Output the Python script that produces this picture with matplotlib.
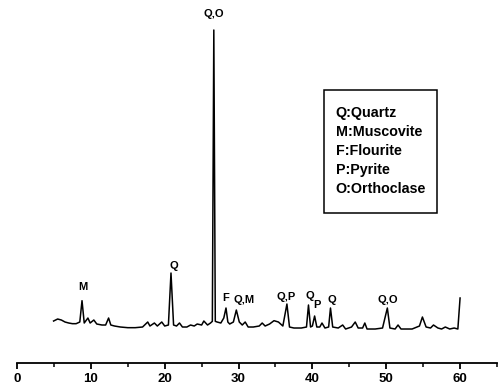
import matplotlib
matplotlib.use("Agg")
import matplotlib.pyplot as plt
from matplotlib.patches import Rectangle
from matplotlib.ticker import MultipleLocator

# XRD trace (2-theta, intensity a.u.)
two_theta = [4.95, 5.5, 6.0, 6.5, 7.0, 7.5, 8.0, 8.5, 8.8, 9.1, 9.6, 9.9, 10.4, 10.8,
             11.5, 12.0, 12.4, 12.7, 13.2, 14.0, 15.0, 16.0, 17.0, 17.7, 18.0, 18.6,
             19.0, 19.6, 20.0, 20.5, 20.85, 21.2, 21.6, 22.0, 22.4, 23.0, 23.5, 24.0,
             24.4, 25.0, 25.3, 25.8, 26.2, 26.45, 26.65, 26.85, 27.1, 27.6, 28.0, 28.3,
             28.55, 28.8, 29.3, 29.7, 30.1, 30.5, 30.9, 31.3, 32.0, 32.8, 33.2, 33.6,
             34.2, 34.8, 35.4, 36.0, 36.55, 36.9, 37.5, 38.5, 39.2, 39.47, 39.75, 40.0,
             40.3, 40.6, 41.0, 41.3, 41.7, 42.2, 42.45, 42.75, 43.5, 44.1, 44.5, 45.3,
             45.8, 46.2, 46.8, 47.1, 47.4, 48.5, 49.5, 50.15, 50.5, 51.2, 51.6, 52.0,
             53.5, 54.5, 54.9, 55.4, 56.0, 56.4, 57.0, 57.5, 58.0, 58.6, 59.2, 59.7, 60.0]
intensity = [126, 132, 129, 123, 120, 118, 118, 123, 187, 120, 135, 120, 129, 117,
             114, 114, 135, 114, 111, 108, 106, 106, 108, 123, 111, 120,
             111, 123, 111, 114, 270, 114, 111, 120, 108, 108, 114, 111,
             117, 114, 126, 114, 120, 125, 999, 125, 123, 120, 135, 165,
             123, 117, 123, 159, 123, 114, 123, 108, 108, 111, 120, 111,
             117, 127, 123, 111, 177, 108, 105, 105, 108, 174, 108, 111,
             141, 108, 108, 120, 105, 108, 165, 108, 105, 114, 102, 108,
             123, 105, 105, 120, 102, 102, 105, 165, 105, 102, 114, 102,
             102, 111, 138, 108, 105, 114, 105, 102, 108, 102, 105, 102, 195]

# peak labels
label_text = ["M", "Q", "Q,O", "F", "Q,M", "Q,P", "Q", "P", "Q", "Q,O"]
label_x = [8.9, 21.2, 26.6, 28.2, 30.7, 36.5, 39.6, 40.6, 42.6, 50.2]
label_y = [227, 292, 1047, 194, 189, 199, 201, 174, 189, 189]

legend_lines = ["Q:Quartz", "M:Muscovite", "F:Flourite", "P:Pyrite", "O:Orthoclase"]

plt.rcParams["font.family"] = "Liberation Sans"

fig = plt.figure(figsize=(5.01, 3.89), dpi=100)
ax = fig.add_axes([0.034, 0.0668, 0.958, 0.9332])

ax.plot(two_theta, intensity, color="black", lw=1.1)

for t, x, y in zip(label_text, label_x, label_y):
    ax.text(x, y, t, ha="center", va="center", fontsize=8, fontweight="bold")

# legend box
ax.add_patch(Rectangle((0.64, 0.413), 0.235, 0.339, transform=ax.transAxes,
                       facecolor="white", edgecolor="black", lw=1.1, zorder=3))
for i, line in enumerate(legend_lines):
    ax.text(0.664, 0.689 - i * 0.0525, line, transform=ax.transAxes,
            ha="left", va="center", fontsize=10.3, fontweight="bold", zorder=4)

ax.set_xlim(0, 65)
ax.set_ylim(0, 1089)
for s in ["top", "right", "left"]:
    ax.spines[s].set_visible(False)
ax.spines["bottom"].set_linewidth(1.3)
ax.set_yticks([])
ax.set_xticks([0, 10, 20, 30, 40, 50, 60])
ax.xaxis.set_minor_locator(MultipleLocator(5))
ax.tick_params(axis="x", which="major", direction="out", length=4, width=1.3,
               labelsize=9.5, pad=3)
ax.tick_params(axis="x", which="minor", direction="out", length=3, width=1.1)
for lbl in ax.get_xticklabels():
    lbl.set_fontweight("bold")

fig.savefig("out.png", dpi=100)
